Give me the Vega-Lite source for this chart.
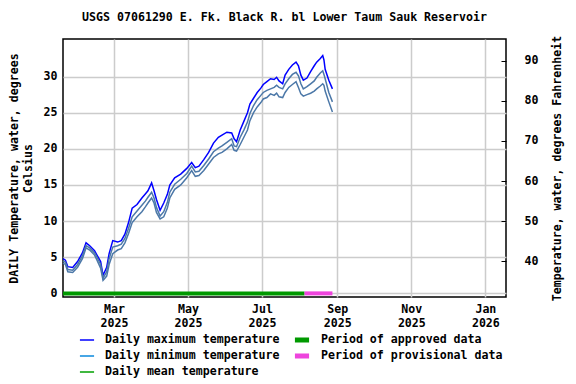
{
  "$schema": "https://vega.github.io/schema/vega-lite/v6.json",
  "width": 443,
  "height": 258,
  "autosize": "none",
  "padding": {"left": 63, "top": 39, "right": 70, "bottom": 87},
  "background": "white",
  "config": {
    "font": "DejaVu Sans Mono",
    "view": {"stroke": "black", "strokeWidth": 1.5},
    "axis": {"labelFont": "DejaVu Sans Mono", "labelFontWeight": "bold", "labelFontSize": 11.6, "labelColor": "black", "titleFont": "DejaVu Sans Mono", "titleFontWeight": "bold", "titleFontSize": 11.6, "titleColor": "black", "domain": false},
    "legend": {"labelFont": "DejaVu Sans Mono", "labelFontWeight": "bold", "labelFontSize": 11.6, "labelColor": "black", "labelLimit": 0}
  },
  "title": {"text": "USGS 07061290 E. Fk. Black R. bl Lower Taum Sauk Reservoir", "font": "DejaVu Sans Mono", "fontWeight": "bold", "fontSize": 11.6, "color": "black", "anchor": "middle", "offset": 12},
  "datasets": {
    "temps": [
      {"date": "2025-01-18", "max": 4.8, "min": 4.2, "mean": 4.5},
      {"date": "2025-01-20", "max": 4.6, "min": 4.0, "mean": 4.3},
      {"date": "2025-01-22", "max": 3.7, "min": 3.0, "mean": 3.3},
      {"date": "2025-01-26", "max": 3.6, "min": 2.9, "mean": 3.2},
      {"date": "2025-01-30", "max": 4.4, "min": 3.6, "mean": 4.0},
      {"date": "2025-02-03", "max": 5.6, "min": 4.8, "mean": 5.2},
      {"date": "2025-02-06", "max": 7.0, "min": 6.3, "mean": 6.6},
      {"date": "2025-02-09", "max": 6.6, "min": 6.0, "mean": 6.3},
      {"date": "2025-02-13", "max": 5.9, "min": 5.3, "mean": 5.6},
      {"date": "2025-02-15", "max": 5.3, "min": 4.6, "mean": 5.0},
      {"date": "2025-02-18", "max": 4.4, "min": 3.5, "mean": 4.0},
      {"date": "2025-02-20", "max": 2.5, "min": 1.8, "mean": 2.1},
      {"date": "2025-02-23", "max": 3.6, "min": 2.4, "mean": 3.0},
      {"date": "2025-02-25", "max": 5.5, "min": 4.0, "mean": 4.8},
      {"date": "2025-02-28", "max": 7.3, "min": 5.5, "mean": 6.4},
      {"date": "2025-03-04", "max": 7.1, "min": 6.0, "mean": 6.6},
      {"date": "2025-03-07", "max": 7.3, "min": 6.2, "mean": 6.8},
      {"date": "2025-03-10", "max": 8.2, "min": 7.0, "mean": 7.6},
      {"date": "2025-03-13", "max": 9.8, "min": 8.3, "mean": 9.0},
      {"date": "2025-03-16", "max": 11.8, "min": 9.8, "mean": 10.6},
      {"date": "2025-03-20", "max": 12.3, "min": 10.6, "mean": 11.4},
      {"date": "2025-03-24", "max": 13.2, "min": 11.3, "mean": 12.2},
      {"date": "2025-03-27", "max": 13.8, "min": 12.0, "mean": 12.8},
      {"date": "2025-03-29", "max": 14.2, "min": 12.5, "mean": 13.3},
      {"date": "2025-04-01", "max": 15.3, "min": 13.2, "mean": 14.0},
      {"date": "2025-04-03", "max": 14.2, "min": 12.5, "mean": 13.2},
      {"date": "2025-04-05", "max": 13.0, "min": 11.2, "mean": 11.9},
      {"date": "2025-04-08", "max": 11.5, "min": 10.3, "mean": 10.7},
      {"date": "2025-04-11", "max": 12.5, "min": 10.6, "mean": 11.3},
      {"date": "2025-04-14", "max": 13.7, "min": 11.8, "mean": 12.6},
      {"date": "2025-04-16", "max": 15.0, "min": 13.2, "mean": 14.0},
      {"date": "2025-04-20", "max": 16.0, "min": 14.4, "mean": 15.1},
      {"date": "2025-04-25", "max": 16.5, "min": 15.0, "mean": 15.8},
      {"date": "2025-04-30", "max": 17.3, "min": 16.0, "mean": 16.6},
      {"date": "2025-05-04", "max": 18.1, "min": 17.0, "mean": 17.6},
      {"date": "2025-05-07", "max": 17.4, "min": 16.2, "mean": 16.8},
      {"date": "2025-05-10", "max": 17.6, "min": 16.3, "mean": 16.9},
      {"date": "2025-05-14", "max": 18.5, "min": 17.0, "mean": 17.7},
      {"date": "2025-05-18", "max": 19.5, "min": 17.9, "mean": 18.6},
      {"date": "2025-05-22", "max": 20.8, "min": 18.8, "mean": 19.6},
      {"date": "2025-05-26", "max": 21.6, "min": 19.3, "mean": 20.1},
      {"date": "2025-05-29", "max": 21.9, "min": 19.5, "mean": 20.4},
      {"date": "2025-06-02", "max": 22.3, "min": 20.0, "mean": 20.9},
      {"date": "2025-06-06", "max": 22.2, "min": 20.6, "mean": 21.4},
      {"date": "2025-06-08", "max": 21.4, "min": 19.8, "mean": 20.4},
      {"date": "2025-06-10", "max": 21.0, "min": 19.7, "mean": 20.3},
      {"date": "2025-06-13", "max": 22.6, "min": 20.6, "mean": 21.6},
      {"date": "2025-06-16", "max": 23.8, "min": 21.6, "mean": 22.6},
      {"date": "2025-06-19", "max": 25.0, "min": 22.6, "mean": 23.7},
      {"date": "2025-06-21", "max": 26.2, "min": 23.9, "mean": 24.9},
      {"date": "2025-06-24", "max": 27.0, "min": 25.0, "mean": 26.0},
      {"date": "2025-06-27", "max": 27.8, "min": 25.8, "mean": 26.8},
      {"date": "2025-06-30", "max": 28.4, "min": 26.4, "mean": 27.4},
      {"date": "2025-07-02", "max": 28.9, "min": 26.9, "mean": 27.8},
      {"date": "2025-07-05", "max": 29.3, "min": 27.1, "mean": 28.1},
      {"date": "2025-07-08", "max": 29.7, "min": 27.6, "mean": 28.3},
      {"date": "2025-07-11", "max": 29.6, "min": 27.4, "mean": 28.5},
      {"date": "2025-07-13", "max": 29.9, "min": 27.7, "mean": 28.8},
      {"date": "2025-07-15", "max": 29.4, "min": 27.2, "mean": 28.5},
      {"date": "2025-07-18", "max": 29.0, "min": 27.1, "mean": 28.3},
      {"date": "2025-07-20", "max": 30.2, "min": 27.8, "mean": 29.0},
      {"date": "2025-07-23", "max": 31.0, "min": 28.5, "mean": 29.7},
      {"date": "2025-07-26", "max": 31.6, "min": 28.9, "mean": 30.3},
      {"date": "2025-07-29", "max": 32.0, "min": 29.3, "mean": 30.6},
      {"date": "2025-07-31", "max": 31.5, "min": 28.5, "mean": 30.1},
      {"date": "2025-08-02", "max": 30.2, "min": 27.6, "mean": 29.0},
      {"date": "2025-08-04", "max": 29.5, "min": 27.3, "mean": 28.3},
      {"date": "2025-08-07", "max": 29.8, "min": 27.5, "mean": 28.6},
      {"date": "2025-08-10", "max": 30.7, "min": 27.7, "mean": 29.0},
      {"date": "2025-08-13", "max": 31.5, "min": 28.0, "mean": 29.4},
      {"date": "2025-08-15", "max": 32.0, "min": 28.3, "mean": 29.9},
      {"date": "2025-08-18", "max": 32.5, "min": 28.7, "mean": 30.5},
      {"date": "2025-08-20", "max": 32.9, "min": 29.0, "mean": 30.8},
      {"date": "2025-08-21", "max": 32.3, "min": 28.8, "mean": 30.3},
      {"date": "2025-08-22", "max": 31.0, "min": 28.0, "mean": 29.7},
      {"date": "2025-08-25", "max": 29.5, "min": 26.5, "mean": 27.8},
      {"date": "2025-08-28", "max": 28.3, "min": 25.1, "mean": 26.5}
    ],
    "periods": [
      {"period": "Period of approved data", "start": "2025-01-18", "end": "2025-08-05"},
      {"period": "Period of provisional data", "start": "2025-08-05", "end": "2025-08-28"}
    ],
    "fahr": [{"f": 40}, {"f": 90}]
  },
  "layer": [
    {
      "layer": [
        {
          "data": {"name": "temps"},
          "mark": {"type": "line", "strokeWidth": 1.5},
          "encoding": {
            "x": {"field": "date", "type": "temporal"},
            "y": {"field": "min", "type": "quantitative"},
            "color": {"datum": "Daily minimum temperature"}
          }
        },
        {
          "data": {"name": "temps"},
          "mark": {"type": "line", "strokeWidth": 1.5},
          "encoding": {
            "x": {
              "field": "date", "type": "temporal",
              "scale": {"type": "utc", "domain": [{"year": 2025, "month": 1, "date": 18, "utc": true}, {"year": 2026, "month": 1, "date": 18, "utc": true}]},
              "axis": {
                "title": null,
                "values": [
                  {"year": 2025, "month": 3, "date": 1, "utc": true},
                  {"year": 2025, "month": 5, "date": 1, "utc": true},
                  {"year": 2025, "month": 7, "date": 1, "utc": true},
                  {"year": 2025, "month": 9, "date": 1, "utc": true},
                  {"year": 2025, "month": 11, "date": 1, "utc": true},
                  {"year": 2026, "month": 1, "date": 1, "utc": true}
                ],
                "labelExpr": "[utcFormat(datum.value, '%b'), utcFormat(datum.value, '%Y')]",
                "labelLineHeight": 14,
                "labelPadding": 6,
                "ticks": false,
                "grid": true, "gridColor": "#cccccc", "gridWidth": 1.5
              }
            },
            "y": {
              "field": "max", "type": "quantitative",
              "scale": {"domain": [-0.5, 35.2], "nice": false, "zero": false},
              "axis": {
                "title": ["DAILY Temperature, water, degrees", "Celsius"],
                "titleLineHeight": 14,
                "titlePadding": 10,
                "values": [0, 5, 10, 15, 20, 25, 30],
                "labelPadding": 6,
                "ticks": false,
                "grid": true, "gridColor": "#cccccc", "gridWidth": 1.5
              }
            },
            "color": {
              "datum": "Daily maximum temperature",
              "scale": {
                "domain": ["Daily maximum temperature", "Daily minimum temperature", "Daily mean temperature"],
                "range": ["#0000ff", "#0a88dd", "#00a000"]
              },
              "legend": {
                "title": null, "orient": "none", "legendX": 16, "legendY": 294,
                "symbolType": "stroke", "symbolSize": 200, "symbolStrokeWidth": 1.5,
                "labelOffset": 10, "rowPadding": 2, "clipHeight": 14
              }
            }
          }
        },
        {
          "data": {"name": "temps"},
          "mark": {"type": "line", "strokeWidth": 1.5},
          "encoding": {
            "x": {"field": "date", "type": "temporal"},
            "y": {"field": "mean", "type": "quantitative"},
            "color": {"datum": "Daily mean temperature"}
          }
        },
        {
          "data": {"name": "periods"},
          "mark": {"type": "rule", "strokeWidth": 4},
          "encoding": {
            "x": {"field": "start", "type": "temporal"},
            "x2": {"field": "end"},
            "y": {"datum": 0, "type": "quantitative"},
            "color": {
              "field": "period", "type": "nominal",
              "scale": {"domain": ["Period of approved data", "Period of provisional data"], "range": ["#009900", "#ee44dd"]},
              "legend": {
                "title": null, "orient": "none", "legendX": 229, "legendY": 294,
                "symbolType": "stroke", "symbolSize": 200, "symbolStrokeWidth": 5,
                "labelOffset": 9, "rowPadding": 2, "clipHeight": 14
              }
            }
          }
        }
      ],
      "resolve": {"scale": {"color": "independent"}}
    },
    {
      "data": {"name": "fahr"},
      "mark": {"type": "point", "opacity": 0},
      "encoding": {
        "y": {
          "field": "f", "type": "quantitative",
          "scale": {"domain": [31.1, 95.4], "nice": false, "zero": false},
          "axis": {
            "orient": "right",
            "title": "Temperature, water, degrees Fahrenheit",
            "titleAngle": 270,
            "titleBaseline": "top",
            "values": [40, 50, 60, 70, 80, 90],
            "grid": false,
            "tickSize": -5, "tickColor": "black",
            "labelPadding": 23,
            "titlePadding": 14
          }
        }
      }
    }
  ],
  "resolve": {"scale": {"y": "independent"}}
}
